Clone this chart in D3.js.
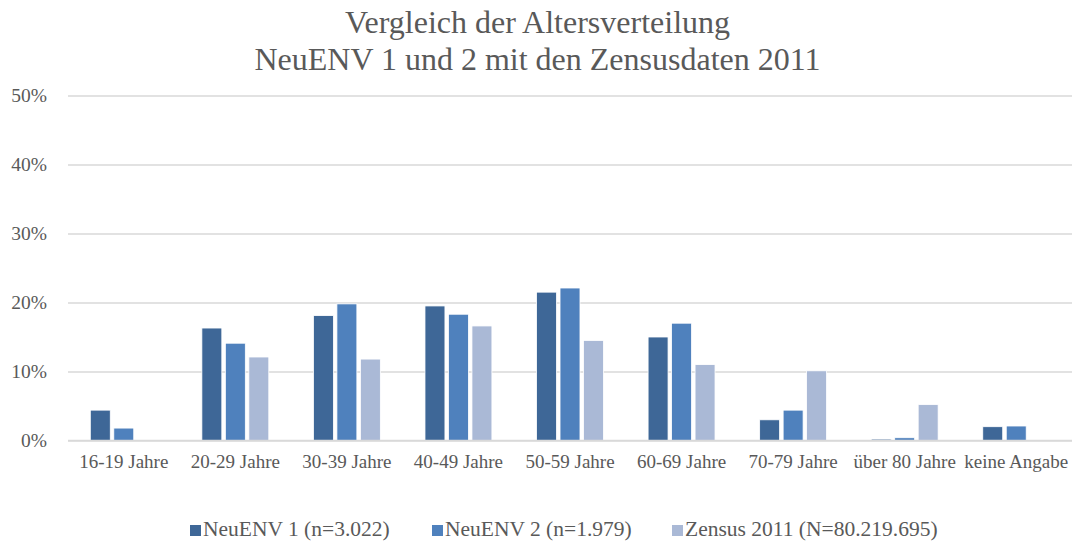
<!DOCTYPE html>
<html><head><meta charset="utf-8">
<script src="https://cdn.jsdelivr.net/npm/d3@7"></script>
<style>body{margin:0;background:#fff}svg{display:block}</style>
</head><body>
<svg id="c" width="1075" height="543"></svg>
<script>
const categories = ["16-19 Jahre","20-29 Jahre","30-39 Jahre","40-49 Jahre","50-59 Jahre","60-69 Jahre","70-79 Jahre","über 80 Jahre","keine Angabe"];
const seriesNames = ["NeuENV 1 (n=3.022)","NeuENV 2 (n=1.979)","Zensus 2011 (N=80.219.695)"];
const neuenv1 = [4.4,16.3,18.1,19.5,21.5,15.0,3.0,0.2,2.0];
const neuenv2 = [1.8,14.1,19.8,18.3,22.1,17.0,4.4,0.4,2.1];
const zensus  = [0,12.1,11.8,16.6,14.5,11.0,10.1,5.2,0];
const yTicks = [0,10,20,30,40,50];
const colors = ["#3E6797","#4F81BD","#AAB9D6"];
const titleLines = ["Vergleich der Altersverteilung","NeuENV 1 und 2 mit den Zensusdaten 2011"];

const svg = d3.select("#c");
const font = "'Liberation Serif','Times New Roman',serif";
const textCol = "#595959";
const m = {l:68, r:1072, t:95.5, b:440.5};
const x = d3.scaleBand().domain(categories).range([m.l,m.r]).paddingInner(0.4).paddingOuter(0.2);
const y = d3.scaleLinear().domain([0,50]).range([m.b,m.t]);
const xs = d3.scaleBand().domain([0,1,2]).range([0,x.bandwidth()]).paddingInner(0.15);

svg.append("g").selectAll("text").data(titleLines).join("text")
  .attr("x",537.5).attr("y",(d,i)=>33+i*37).attr("text-anchor","middle")
  .attr("font-family",font).attr("font-size",32).attr("fill",textCol).text(d=>d);

const ya = svg.append("g").attr("transform",`translate(${m.l},0)`)
  .call(d3.axisLeft(y).tickValues(yTicks).tickFormat(d=>d+"%").tickSize(-(m.r-m.l)).tickPadding(21));
ya.select(".domain").remove();
ya.selectAll("line").attr("stroke","#D9D9D9").attr("stroke-width",1.3);
ya.selectAll("text").attr("font-family",font).attr("font-size",19.5).attr("fill",textCol).attr("dy","0.32em");

const data = [neuenv1,neuenv2,zensus];
const g = svg.append("g");
categories.forEach((c,ci)=>{
  data.forEach((s,si)=>{
    if(s[ci]<=0) return;
    g.append("rect").attr("x",x(c)+xs(si)).attr("width",xs.bandwidth())
      .attr("y",y(s[ci])).attr("height",y(0)-y(s[ci]))
      .attr("fill",colors[si]).attr("stroke","#fff").attr("stroke-width",0.8);
  });
});

const xa = svg.append("g").attr("transform",`translate(0,${m.b})`)
  .call(d3.axisBottom(x).tickSize(0).tickPadding(14));
xa.select(".domain").attr("stroke","#D9D9D9").attr("stroke-width",1.3).attr("d",`M${m.l},0H${m.r}`);
xa.selectAll("text").attr("font-family",font).attr("font-size",19).attr("fill",textCol);

const legX = [190,432,672];
const lg = svg.append("g");
seriesNames.forEach((n,i)=>{
  lg.append("rect").attr("x",legX[i]).attr("y",525).attr("width",11).attr("height",11).attr("fill",colors[i]);
  lg.append("text").attr("x",legX[i]+13).attr("y",536).attr("font-family",font).attr("font-size",21.5)
    .attr("fill",textCol).text(n);
});
</script>
</body></html>
